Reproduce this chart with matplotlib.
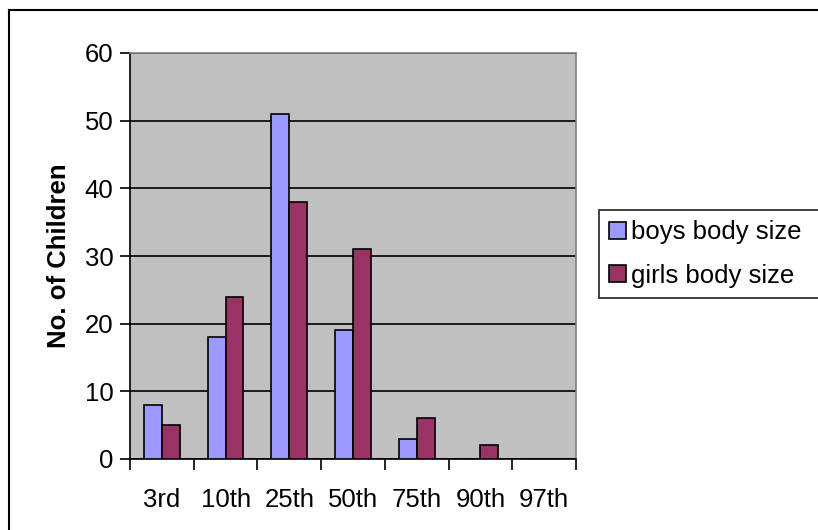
import numpy as np
import matplotlib
matplotlib.use("Agg")
import matplotlib.pyplot as plt
from matplotlib.lines import Line2D

plt.rcParams["font.family"] = ["Liberation Sans", "DejaVu Sans"]

categories = ["3rd", "10th", "25th", "50th", "75th", "90th", "97th"]
boys = [8, 18, 51, 19, 3, 0, 0]
girls = [5, 24, 38, 31, 6, 2, 0]
series_names = ["boys body size", "girls body size"]

FS = 18.5
W, H = 818, 530
fig = plt.figure(figsize=(W / 100, H / 100), dpi=100)
ax = fig.add_axes([130 / W, 1 - 459 / H, (576 - 130) / W, (459 - 53) / H])
ax.set_facecolor("#C0C0C0")

x = np.arange(len(categories))
bw = 0.28
ax.bar(x - bw / 2, boys, bw, color="#9999FF", edgecolor="black", lw=1.2,
       label=series_names[0], zorder=3)
ax.bar(x + bw / 2, girls, bw, color="#993366", edgecolor="black", lw=1.2,
       label=series_names[1], zorder=3)

ax.set_xlim(-0.5, len(categories) - 0.5)
ax.set_ylim(0, 60)
ax.set_yticks(range(0, 61, 10))
ax.yaxis.grid(True, color="black", lw=1.2, zorder=1)
ax.set_axisbelow(True)

# category boundaries get tick marks, labels sit at centres
ax.set_xticks(np.arange(-0.5, len(categories), 1.0))
ax.set_xticklabels([])
ax.set_xticks(x, minor=True)
ax.set_xticklabels(categories, minor=True)
ax.tick_params(axis="x", which="major", length=8, width=1.2, direction="out")
ax.tick_params(axis="x", which="minor", length=0, pad=21, labelsize=FS)
ax.tick_params(axis="y", length=7, width=1.2, direction="out", labelsize=FS, pad=5)

for s in ("left", "bottom"):
    ax.spines[s].set_color("black"); ax.spines[s].set_linewidth(1.2)
for s in ("top", "right"):
    ax.spines[s].set_color("#808080"); ax.spines[s].set_linewidth(1.2)

ax.set_ylabel("No. of Children", fontsize=FS, fontweight="bold", labelpad=10)

leg = fig.legend(loc="center left", bbox_to_anchor=(599 / W, 1 - 296 / H, 0.3, (296 - 212) / H),
                 mode="expand", fontsize=FS, frameon=True, fancybox=False,
                 handlelength=0.65, handleheight=0.65, handletextpad=0.2,
                 borderpad=0.4, labelspacing=0.74, borderaxespad=0)
leg.get_frame().set_edgecolor("black")
leg.get_frame().set_linewidth(1.3)

# outer chart border (left and top edges visible)
fig.add_artist(Line2D([9 / W, 9 / W], [0, 1 - 10 / H], transform=fig.transFigure, color="black", lw=1.5))
fig.add_artist(Line2D([9 / W, 1], [1 - 10 / H, 1 - 10 / H], transform=fig.transFigure, color="black", lw=1.5))

fig.savefig("out.png", dpi=100)
